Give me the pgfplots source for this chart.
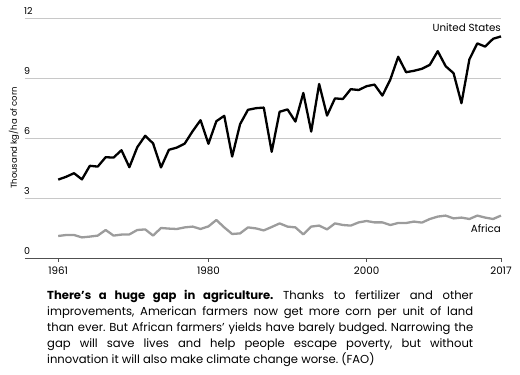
\documentclass[border=0pt]{standalone}
\usepackage{fontspec}
\setmainfont{Poppins}
\usepackage{pgfplots}
\pgfplotsset{compat=1.18}
\definecolor{africa}{HTML}{9C9C9C}
\definecolor{gridc}{HTML}{C8C8C8}
\definecolor{axisc}{HTML}{505050}
\frenchspacing
\begin{document}
\begin{tikzpicture}
\useasboundingbox (0,0) rectangle (520pt,375pt);
\begin{axis}[
  at={(25pt,117pt)}, anchor=south west,
  scale only axis, width=476pt, height=240pt,
  xmin=1956.8, xmax=2017, ymin=0, ymax=12,
  axis lines=left,
  axis line style={-},
  y axis line style={draw=none},
  x axis line style={draw=axisc, line width=0.9pt},
  ytick={0,3,6,9,12},
  ymajorgrids, grid style={gridc, line width=0.7pt},
  ytick style={draw=none},
  xtick={1961,1980,2000,2017},
  xtick align=outside,
  xtick style={draw=axisc, line width=0.8pt},
  major tick length=4pt,
  /pgf/number format/assume math mode=true,
  xticklabel style={/pgf/number format/1000 sep={}, font=\fontsize{10.3}{12}\selectfont, yshift=-1pt},
  yticklabel style={anchor=south west, inner sep=0pt, xshift=1pt, yshift=3pt, font=\fontsize{9.5}{11}\selectfont},
  ylabel={Thousand kg/ha of corn},
  every axis y label/.style={at={(axis description cs:0,0.5)}, xshift=-11pt, rotate=90, anchor=center, font=\fontsize{8.5}{10}\selectfont},
  clip=false,
]
\addplot[africa, line width=2.3pt, line join=round] table {
x y
1961 1.10
1962 1.15
1963 1.15
1964 1.03
1965 1.07
1966 1.12
1967 1.40
1968 1.12
1969 1.17
1970 1.18
1971 1.40
1972 1.43
1973 1.12
1974 1.50
1975 1.47
1976 1.45
1977 1.53
1978 1.57
1979 1.45
1980 1.58
1981 1.90
1982 1.53
1983 1.20
1984 1.23
1985 1.53
1986 1.48
1987 1.38
1988 1.55
1989 1.73
1990 1.57
1991 1.53
1992 1.18
1993 1.57
1994 1.62
1995 1.43
1996 1.73
1997 1.65
1998 1.62
1999 1.78
2000 1.85
2001 1.78
2002 1.78
2003 1.65
2004 1.75
2005 1.75
2006 1.82
2007 1.77
2008 1.95
2009 2.07
2010 2.12
2011 1.98
2012 2.02
2013 1.95
2014 2.12
2015 2.02
2016 1.95
2017 2.12
};
\addplot[black, line width=2.3pt, line join=round] table {
x y
1961 3.92
1962 4.06
1963 4.24
1964 3.93
1965 4.61
1966 4.57
1967 5.04
1968 5.02
1969 5.39
1970 4.54
1971 5.54
1972 6.11
1973 5.73
1974 4.53
1975 5.41
1976 5.52
1977 5.72
1978 6.34
1979 6.89
1980 5.71
1981 6.84
1982 7.11
1983 5.07
1984 6.69
1985 7.41
1986 7.49
1987 7.52
1988 5.31
1989 7.31
1990 7.43
1991 6.82
1992 8.25
1993 6.32
1994 8.70
1995 7.12
1996 7.98
1997 7.95
1998 8.44
1999 8.40
2000 8.59
2001 8.67
2002 8.12
2003 8.92
2004 10.06
2005 9.29
2006 9.36
2007 9.46
2008 9.66
2009 10.34
2010 9.59
2011 9.24
2012 7.74
2013 9.93
2014 10.73
2015 10.57
2016 10.96
2017 11.08
};
\node[anchor=east, inner sep=0pt, font=\fontsize{10.3}{12}\selectfont] at (axis cs:2017,11.5) {United States};
\node[anchor=east, inner sep=0pt, font=\fontsize{10.3}{12}\selectfont] at (axis cs:2017,1.45) {Africa};
\end{axis}
\node[anchor=north west, inner sep=0pt, text width=426pt, align=justify, font=\fontsize{11.6}{16}\selectfont] at (47pt,85pt)
{{\bfseries There’s a huge gap in agriculture.} Thanks to fertilizer and other\linebreak
improvements, American farmers now get more corn per unit of land\linebreak
than ever. But African farmers’ yields have barely budged. Narrowing the\linebreak
gap will save lives and help people escape poverty, but without\linebreak
innovation it will also make climate change worse. (FAO)};
\end{tikzpicture}
\end{document}
